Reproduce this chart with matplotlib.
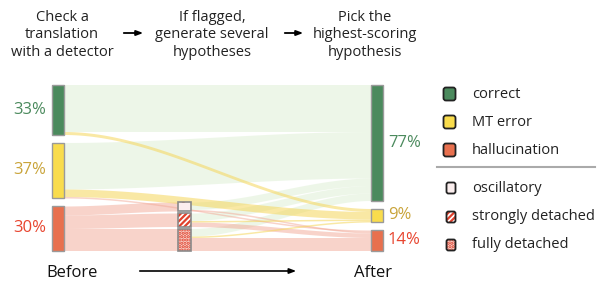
import numpy as np
import matplotlib.pyplot as plt
from matplotlib.patches import Rectangle, FancyBboxPatch

plt.rcParams['font.family'] = ['Open Sans', 'DejaVu Sans']
plt.rcParams['hatch.linewidth'] = 1.6

steps = ["Check a\ntranslation\nwith a detector",
         "If flagged,\ngenerate several\nhypotheses",
         "Pick the\nhighest-scoring\nhypothesis"]

classes = ["correct", "MT error", "hallucination"]
before = [33, 37, 30]
after = [77, 9, 14]

subtypes = ["oscillatory", "strongly detached", "fully detached"]
subtype_share = [6, 9, 15]

# flows that go straight from before to after
direct_flows = [
    ("correct", "correct", 31),
    ("correct", "MT error", 2),
    ("MT error", "correct", 31),
    ("MT error", "MT error", 5),
    ("MT error", "hallucination", 1),
]
# flagged hallucinations go through regeneration
sub_flows = [
    ("oscillatory", "correct", 5),
    ("oscillatory", "hallucination", 1),
    ("strongly detached", "correct", 5),
    ("strongly detached", "MT error", 1),
    ("strongly detached", "hallucination", 3),
    ("fully detached", "correct", 5),
    ("fully detached", "MT error", 1),
    ("fully detached", "hallucination", 9),
]

node_col = {"correct": "#4b8a5d", "MT error": "#f9dc4c", "hallucination": "#e8704e"}
text_col = {"correct": "#4b8a5d", "MT error": "#c9a43a", "hallucination": "#e8452f"}
flow_col = {"correct": "#dcefd2", "MT error": "#f5d65a", "hallucination": "#f2a896"}
flow_alpha = {"correct": 0.5, "MT error": 0.55, "hallucination": 0.5}
sub_style = {
    "oscillatory": dict(facecolor="#fbeeee", hatch="."),
    "strongly detached": dict(facecolor="white", hatch="//////"),
    "fully detached": dict(facecolor="#f8d3cb", hatch="....."),
}

W, H = 603, 282
fig = plt.figure(figsize=(W / 100, H / 100), dpi=100)
ax = fig.add_axes([0, 0, 1, 1])
ax.set_xlim(0, W)
ax.set_ylim(H, 0)
ax.axis('off')

px = 1.5          # pixels per percent
top, bottom = 85, 251
xl, xm, xr = 52, 178, 371
wl, wm, wr = 12, 13, 12


def spans(names, vals, y0, gap):
    out = {}
    y = y0
    for n, v in zip(names, vals):
        out[n] = [y, y + v * px]
        y += v * px + gap
    return out


left = spans(classes, before, top, 8)
right = spans(classes, after, top, 8)
mid_total = sum(subtype_share) * px + 2 * 2
mid = spans(subtypes, subtype_share, bottom - mid_total, 2)


def band(xa, a0, a1, xb, b0, b1, color, alpha):
    x = np.linspace(xa, xb, 120)
    t = (x - xa) / (xb - xa)
    s = t * t * (3 - 2 * t)
    ax.fill_between(x, a0 + (b0 - a0) * s, a1 + (b1 - a1) * s,
                    color=color, alpha=alpha, lw=0, zorder=1)


out_cur = {k: v[0] for k, v in left.items()}
out_cur.update({k: v[0] for k, v in mid.items()})
in_cur = {k: v[0] for k, v in right.items()}
in_mid = {k: v[0] for k, v in mid.items()}

bands = []
for src, dst, v in direct_flows:
    h = v * px
    bands.append((dst, xl + wl, out_cur[src], xr, in_cur[dst], h))
    out_cur[src] += h
    in_cur[dst] += h
# hallucinations into the regeneration step
for st, v in zip(subtypes, subtype_share):
    h = v * px
    bands.append(("hallucination", xl + wl, out_cur["hallucination"], xm, in_mid[st], h))
    out_cur["hallucination"] += h
for src, dst, v in sub_flows:
    h = v * px
    bands.append((dst, xm + wm, out_cur[src], xr, in_cur[dst], h))
    out_cur[src] += h
    in_cur[dst] += h

for layer in ["correct", "hallucination", "MT error"]:
    for dst, xa, ya, xb, yb, h in bands:
        if dst == layer:
            band(xa, ya, ya + h, xb, yb, yb + h, flow_col[dst], flow_alpha[dst])

# nodes
for n in classes:
    y0, y1 = left[n]
    ax.add_patch(Rectangle((xl, y0), wl, y1 - y0, fc=node_col[n], ec="#9a9a9a", lw=1, zorder=3))
    ax.text(xl - 6, (y0 + y1) / 2, f"{before[classes.index(n)]}%", color=text_col[n],
            fontsize=12, ha="right", va="center")
    y0, y1 = right[n]
    ax.add_patch(Rectangle((xr, y0), wr, y1 - y0, fc=node_col[n], ec="#9a9a9a", lw=1, zorder=3))
    ax.text(xr + wr + 5, (y0 + y1) / 2, f"{after[classes.index(n)]}%", color=text_col[n],
            fontsize=12, ha="left", va="center")

for st in subtypes:
    y0, y1 = mid[st]
    ax.add_patch(Rectangle((xm, y0), wm, y1 - y0, fc=sub_style[st]["facecolor"],
                           hatch=sub_style[st]["hatch"], ec="#e0402c", lw=0, zorder=3))
    ax.add_patch(Rectangle((xm, y0), wm, y1 - y0, fc="none", ec="#8a8a8a", lw=1.2, zorder=4))

# process description on top
for cx, s in zip([62, 212, 365], steps):
    ax.text(cx, 35, s, ha="center", va="center", fontsize=10.5, linespacing=1.2, color="#222222")
for xa, xb in [(121, 146), (282, 306)]:
    ax.annotate("", xy=(xb, 33), xytext=(xa, 33),
                arrowprops=dict(arrowstyle="-|>,head_length=0.4,head_width=0.15", lw=1.3, color="black"))

ax.text(72, 273, "Before", ha="center", va="center", fontsize=12, color="#111111")
ax.text(373, 273, "After", ha="center", va="center", fontsize=12, color="#111111")
ax.annotate("", xy=(299, 271), xytext=(137, 271),
            arrowprops=dict(arrowstyle="-|>,head_length=0.4,head_width=0.15", lw=1.2, color="black"))

# legend
for n, y in zip(classes, [94, 122, 150]):
    ax.add_patch(FancyBboxPatch((444, y - 6), 11, 12, boxstyle="round,pad=0.5,rounding_size=2.5",
                                fc=node_col[n], ec="#222222", lw=1.3, zorder=3))
    ax.text(472, y, n, ha="left", va="center", fontsize=10.5, color="#222222")
ax.plot([437, 595], [167, 167], color="#aaaaaa", lw=1.5)
for st, y in zip(subtypes, [188, 217, 245]):
    ax.add_patch(FancyBboxPatch((447, y - 5), 8, 10, boxstyle="round,pad=0.5,rounding_size=2",
                                fc=sub_style[st]["facecolor"], hatch=sub_style[st]["hatch"],
                                ec="#e0402c", lw=0, zorder=3))
    ax.add_patch(FancyBboxPatch((447, y - 5), 8, 10, boxstyle="round,pad=0.5,rounding_size=2",
                                fc="none", ec="#222222", lw=1.3, zorder=4))
    ax.text(472, y, st, ha="left", va="center", fontsize=10.5, color="#222222")

fig.savefig("out.png", dpi=100)
